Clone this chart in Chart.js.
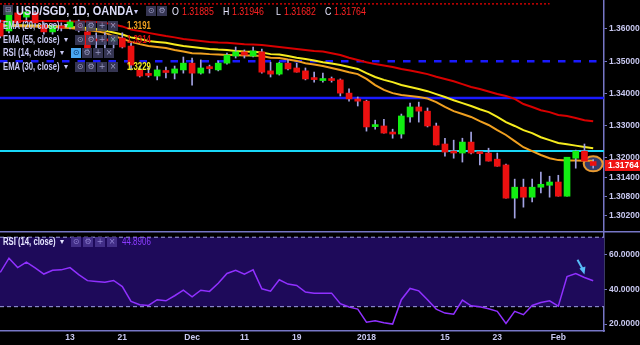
<!DOCTYPE html>
<html>
<head>
<meta charset="utf-8">
<script src="https://cdn.jsdelivr.net/npm/chart.js@4.4.1/dist/chart.umd.min.js"></script>
<style>
  html, body { margin: 0; padding: 0; background: #000; width: 640px; height: 345px; overflow: hidden; }
  #wrap { position: relative; width: 640px; height: 345px; }
  #priceBox { position: absolute; left: 0; top: 0; width: 640px; height: 231px; }
  #rsiBox { position: absolute; left: 0; top: 231px; width: 640px; height: 114px; }
  .t { position: absolute; white-space: nowrap; font-family: "Liberation Sans", Arial, sans-serif;
       line-height: 12px; height: 12px; transform-origin: 0 50%; }
  .nm { font-size: 10px; font-weight: bold; color: #c8c8f2; transform: scaleX(0.77); }
  .dd { font-size: 8px; color: #c8c8f2; font-family: "DejaVu Sans", sans-serif; }
  .val { font-size: 10px; font-weight: bold; transform: scaleX(0.78); }
  .hd { font-size: 12px; font-weight: bold; color: #dcdcf8; transform: scaleX(0.92); line-height: 14px; height: 14px; }
  .ol { font-size: 11px; color: #e6e6ff; transform: scaleX(0.8); line-height: 14px; height: 14px; }
  .ov { font-size: 11px; color: #ff2222; transform: scaleX(0.8); line-height: 14px; height: 14px; }
  .ic { position: absolute; width: 10px; height: 10px; background: rgba(62,62,96,0.85); color: #9a9ac4;
        font: 8px/10px "DejaVu Sans", sans-serif; text-align: center; }
  .ic.on { background: #4aa8f0; color: #0a3a70; }
  .ic.rs { background: rgba(70,50,140,0.9); color: #8f80d0; }
</style>
</head>
<body>
<div id="wrap">
  <div id="priceBox"><canvas id="price"></canvas></div>
  <div id="rsiBox"><canvas id="rsi"></canvas></div>

  <!-- header -->
  <div class="ic" style="left:3px;top:5px;height:10px;background:rgba(70,70,100,0.8)">&#8863;</div>
  <div class="t hd" style="left:16px;top:4px">USD/SGD, 1D, OANDA</div>
  <div class="t dd" style="left:134px;top:6px">&#9662;</div>
  <div class="ic" style="left:146px;top:6px">&#8857;</div>
  <div class="ic" style="left:157px;top:6px">&#9881;</div>
  <div class="t ol" style="left:172px;top:4px">O</div><div class="t ov" style="left:182px;top:4px">1.31885</div>
  <div class="t ol" style="left:223px;top:4px">H</div><div class="t ov" style="left:232px;top:4px">1.31946</div>
  <div class="t ol" style="left:276px;top:4px">L</div><div class="t ov" style="left:284px;top:4px">1.31682</div>
  <div class="t ol" style="left:325px;top:4px">C</div><div class="t ov" style="left:334px;top:4px">1.31764</div>

  <!-- indicator rows -->
  <div class="t nm" style="left:3px;top:20px">EMA (20, close)</div>
  <div class="t dd" style="left:64px;top:20px">&#9662;</div>
  <div class="ic" style="left:75px;top:21px">&#8857;</div><div class="ic" style="left:86px;top:21px">&#9881;</div>
  <div class="ic" style="left:97px;top:21px">+</div><div class="ic" style="left:108px;top:21px">&#215;</div>
  <div class="t val" style="left:127px;top:20px;color:#f0a020">1.3191</div>

  <div class="t nm" style="left:3px;top:33.5px">EMA (55, close)</div>
  <div class="t dd" style="left:64px;top:33.5px">&#9662;</div>
  <div class="ic" style="left:75px;top:34.5px">&#8857;</div><div class="ic" style="left:86px;top:34.5px">&#9881;</div>
  <div class="ic" style="left:97px;top:34.5px">+</div><div class="ic" style="left:108px;top:34.5px">&#215;</div>
  <div class="t val" style="left:127px;top:33.5px;color:#e01010">1.3314</div>

  <div class="t nm" style="left:3px;top:47px">RSI (14, close)</div>
  <div class="t dd" style="left:60px;top:47px">&#9662;</div>
  <div class="ic on" style="left:71px;top:48px">&#8857;</div><div class="ic" style="left:82px;top:48px">&#9881;</div>
  <div class="ic" style="left:93px;top:48px">+</div><div class="ic" style="left:104px;top:48px">&#215;</div>

  <div class="t nm" style="left:3px;top:60.5px">EMA (30, close)</div>
  <div class="t dd" style="left:64px;top:60.5px">&#9662;</div>
  <div class="ic" style="left:75px;top:61.5px">&#8857;</div><div class="ic" style="left:86px;top:61.5px">&#9881;</div>
  <div class="ic" style="left:97px;top:61.5px">+</div><div class="ic" style="left:108px;top:61.5px">&#215;</div>
  <div class="t val" style="left:127px;top:60.5px;color:#f4ee22">1.3229</div>

  <!-- rsi pane legend -->
  <div class="t nm" style="left:3px;top:235.5px;color:#e6e6ff">RSI (14, close)</div>
  <div class="t dd" style="left:60px;top:235.5px;color:#e6e6ff">&#9662;</div>
  <div class="ic rs" style="left:71px;top:236.5px">&#8857;</div><div class="ic rs" style="left:83px;top:236.5px">&#9881;</div>
  <div class="ic rs" style="left:95px;top:236.5px">+</div><div class="ic rs" style="left:107px;top:236.5px">&#215;</div>
  <div class="t val" style="left:122px;top:235.5px;color:#8c3cff;font-weight:normal;transform:scaleX(0.8)">44.8906</div>
</div>

<script>
// ---- data (daily candles, Nov 1 2017 .. Feb 7 2018) ----
const days = [
  'Nov 1','Nov 2','Nov 3','Nov 6','Nov 7','Nov 8','Nov 9','Nov 10','Nov 13','Nov 14',
  'Nov 15','Nov 16','Nov 17','Nov 20','Nov 21','Nov 22','Nov 23','Nov 24','Nov 27','Nov 28',
  'Nov 29','Nov 30','Dec 1','Dec 4','Dec 5','Dec 6','Dec 7','Dec 8','Dec 11','Dec 12',
  'Dec 13','Dec 14','Dec 15','Dec 18','Dec 19','Dec 20','Dec 21','Dec 22','Dec 26','Dec 27',
  'Dec 28','Dec 29','Jan 2','Jan 3','Jan 4','Jan 5','Jan 8','Jan 9','Jan 10','Jan 11',
  'Jan 12','Jan 15','Jan 16','Jan 17','Jan 18','Jan 19','Jan 22','Jan 23','Jan 24','Jan 25',
  'Jan 26','Jan 29','Jan 30','Jan 31','Feb 1','Feb 2','Feb 5','Feb 6','Feb 7'
];

const open = [
  1.3619,1.3594,1.3650,1.3637,1.3650,1.3612,1.3591,1.3609,1.3606,1.3622,
  1.3591,1.3569,1.3566,1.3563,1.3572,1.3547,1.3473,1.3459,1.3454,1.3468,
  1.3463,1.3473,1.3494,1.3463,1.3480,1.3473,1.3494,1.3516,1.3529,1.3516,
  1.3529,1.3470,1.3460,1.3494,1.3479,1.3470,1.3446,1.3440,1.3443,1.3442,
  1.3401,1.3383,1.3376,1.3297,1.3299,1.3280,1.3274,1.3327,1.3358,1.3345,
  1.3299,1.3243,1.3218,1.3215,1.3249,1.3216,1.3215,1.3196,1.3178,1.3075,
  1.3109,1.3078,1.3109,1.3115,1.3125,1.3081,1.3199,1.3221,1.31885
];
const high = [
  1.3628,1.3659,1.3656,1.3659,1.3656,1.3619,1.3616,1.3619,1.3628,1.3628,
  1.3612,1.3588,1.3588,1.3581,1.3588,1.3557,1.3485,1.3482,1.3485,1.3482,
  1.3485,1.3513,1.3510,1.3504,1.3488,1.3501,1.3525,1.3544,1.3535,1.3544,
  1.3538,1.3497,1.3497,1.3504,1.3494,1.3479,1.3466,1.3463,1.3451,1.3445,
  1.3414,1.3389,1.3379,1.3317,1.3320,1.3289,1.3336,1.3370,1.3373,1.3355,
  1.3308,1.3261,1.3255,1.3261,1.3280,1.3218,1.3230,1.3215,1.3181,1.3134,
  1.3134,1.3134,1.3156,1.3143,1.3146,1.3202,1.3224,1.3243,1.31946
];
const low = [
  1.3572,1.3588,1.3612,1.3628,1.3609,1.3584,1.3584,1.3594,1.3600,1.3591,
  1.3535,1.3541,1.3541,1.3541,1.3541,1.3473,1.3451,1.3451,1.3442,1.3448,
  1.3445,1.3463,1.3426,1.3460,1.3463,1.3470,1.3491,1.3510,1.3510,1.3513,
  1.3463,1.3451,1.3457,1.3473,1.3466,1.3442,1.3435,1.3435,1.3435,1.3392,
  1.3376,1.3361,1.3283,1.3289,1.3277,1.3261,1.3261,1.3311,1.3311,1.3296,
  1.3240,1.3205,1.3199,1.3187,1.3212,1.3178,1.3190,1.3174,1.3075,1.3013,
  1.3047,1.3063,1.3091,1.3078,1.3081,1.3081,1.3168,1.3190,1.31682
];
const close = [
  1.3578,1.3653,1.3619,1.3653,1.3619,1.3591,1.3609,1.3603,1.3622,1.3597,
  1.3541,1.3563,1.3563,1.3572,1.3544,1.3488,1.3454,1.3456,1.3473,1.3465,
  1.3476,1.3494,1.3463,1.3479,1.3477,1.3494,1.3519,1.3529,1.3519,1.3532,
  1.3466,1.3460,1.3494,1.3476,1.3466,1.3445,1.3443,1.3443,1.3440,1.3401,
  1.3383,1.3376,1.3296,1.3300,1.3277,1.3274,1.3330,1.3358,1.3345,1.3299,
  1.3240,1.3218,1.3215,1.3249,1.3215,1.3213,1.3190,1.3174,1.3075,1.3109,
  1.3078,1.3109,1.3118,1.3125,1.3081,1.3202,1.3221,1.3190,1.31764
];

const ema20 = [
  1.3609,1.3609,1.3609,1.3608,1.3608,1.3606,1.3606,1.3605,1.3603,1.3600,
  1.3597,1.3594,1.3588,1.3578,1.3570,1.3560,1.3553,1.3547,1.3544,1.3541,
  1.3535,1.3530,1.3525,1.3524,1.3522,1.3521,1.3519,1.3519,1.3518,1.3518,
  1.3516,1.3511,1.3510,1.3505,1.3501,1.3494,1.3490,1.3485,1.3479,1.3473,
  1.3466,1.3460,1.3445,1.3426,1.3411,1.3401,1.3395,1.3392,1.3389,1.3384,
  1.3373,1.3358,1.3345,1.3336,1.3327,1.3314,1.3302,1.3286,1.3271,1.3252,
  1.3233,1.3221,1.3209,1.3199,1.3193,1.3192,1.3192,1.3191,1.3191
];
const ema30 = [
  1.3612,1.3612,1.3612,1.3611,1.3611,1.3609,1.3609,1.3608,1.3606,1.3605,
  1.3603,1.3600,1.3595,1.3589,1.3583,1.3574,1.3569,1.3563,1.3560,1.3557,
  1.3552,1.3547,1.3544,1.3541,1.3538,1.3536,1.3535,1.3532,1.3530,1.3529,
  1.3527,1.3522,1.3521,1.3516,1.3511,1.3507,1.3502,1.3497,1.3493,1.3488,
  1.3482,1.3476,1.3463,1.3451,1.3442,1.3435,1.3426,1.3420,1.3414,1.3407,
  1.3398,1.3389,1.3379,1.3370,1.3361,1.3351,1.3342,1.3327,1.3311,1.3299,
  1.3286,1.3277,1.3264,1.3255,1.3246,1.3242,1.3238,1.3234,1.3230
];
const ema55 = [
  1.3625,1.3625,1.3625,1.3625,1.3625,1.3625,1.3625,1.3625,1.3623,1.3623,
  1.3623,1.3622,1.3619,1.3614,1.3608,1.3598,1.3594,1.3588,1.3583,1.3578,
  1.3574,1.3569,1.3566,1.3563,1.3560,1.3558,1.3557,1.3555,1.3553,1.3552,
  1.3550,1.3547,1.3544,1.3541,1.3538,1.3535,1.3532,1.3530,1.3525,1.3519,
  1.3511,1.3504,1.3497,1.3491,1.3487,1.3482,1.3476,1.3471,1.3466,1.3460,
  1.3452,1.3445,1.3438,1.3429,1.3420,1.3414,1.3406,1.3398,1.3392,1.3383,
  1.3367,1.3358,1.3348,1.3342,1.3333,1.3330,1.3324,1.3317,1.3314
];

const rsi14 = [
  49.7,57.9,52.5,55.6,52.4,48.8,51.0,51.2,52.5,48.5,
  45.0,44.5,44.1,45.1,41.6,33.0,31.1,30.7,34.0,33.4,
  36.3,39.5,35.7,39.5,38.8,43.5,49.1,51.0,48.7,51.2,
  40.3,38.9,45.5,43.0,42.2,38.4,37.8,37.8,37.8,31.7,
  29.8,28.6,21.1,21.9,20.8,20.0,34.0,40.5,39.1,34.0,
  28.6,26.3,25.7,33.8,30.5,30.0,28.8,27.3,20.4,27.3,
  25.4,30.7,32.4,33.4,30.3,47.4,49.1,46.8,44.89
];

// horizontal levels drawn on the price pane
const dashedLevel = 1.3500;
const solidLevel  = 1.3386;
const cyanLevel   = 1.3221;
const dottedLevel = 1.3678;   // red dotted line, runs up to candle 63
const dottedEnd   = 63;
const rsiLevels   = [70, 30];

const priceTicks = [1.36, 1.35, 1.34, 1.33, 1.32, 1.314, 1.308, 1.302];
const rsiTicks   = [60, 40, 20];
const xTickIdx   = [8, 14, 22, 28, 34, 42, 51, 57, 64];
const xTickText  = ['13', '21', 'Dec', '11', '19', '2018', '15', '23', 'Feb'];

// ---- look ----
const X_MIN = -0.028, X_MAX = 69.24;
const AXIS  = '#7676c6';
const TICK  = '#c8c8f0';
const TFONT = { family: 'Liberation Sans', size: 8.5, weight: 'bold' };
const UP = '#12ee12', DOWN = '#ec1010', WICK = '#a2a2e2';

const pts = arr => arr.map((v, i) => ({ x: i, y: v }));
const hline = (lvl, x0 = X_MIN, x1 = X_MAX) => [{ x: x0, y: lvl }, { x: x1, y: lvl }];
const flatLine = (data, color, width, dash, order) => ({
  type: 'line', data, borderColor: color, borderWidth: width, borderDash: dash || [],
  pointRadius: 0, tension: 0, order,
});

const fixRightAxis = s => { s.width = 36; s.paddingTop = 0; s.paddingBottom = 0; };

// ellipse highlight behind the last candle + live price tag
const priceDecor = {
  id: 'priceDecor',
  beforeDatasetsDraw(chart) {
    const { ctx, scales: { x, y } } = chart;
    const n = close.length - 1;
    const cx = x.getPixelForValue(n), cy = y.getPixelForValue((high[n] + low[n]) / 2);
    ctx.save();
    ctx.beginPath();
    ctx.ellipse(cx, cy, 9.5, 7.5, 0, 0, Math.PI * 2);
    ctx.fillStyle = 'rgba(72,82,140,0.75)';
    ctx.fill();
    ctx.lineWidth = 2;
    ctx.strokeStyle = '#e89a30';
    ctx.stroke();
    ctx.restore();
  },
  afterDraw(chart) {
    const { ctx, chartArea, scales: { y } } = chart;
    const n = close.length - 1;
    const py = y.getPixelForValue(close[n]);
    ctx.save();
    ctx.fillStyle = '#f01414';
    ctx.fillRect(chartArea.right + 1, py - 5.5, 36, 11);
    ctx.fillStyle = '#ffffff';
    ctx.font = 'bold 8.5px "Liberation Sans"';
    ctx.textBaseline = 'middle';
    ctx.fillText(close[n].toFixed(5), chartArea.right + 4, py + 0.5);
    ctx.restore();
  },
};

new Chart(document.getElementById('price'), {
  type: 'bar',
  data: {
    datasets: [
      { type: 'bar', data: days.map((d, i) => ({ x: i, y: [open[i], close[i]] })),
        backgroundColor: c => close[c.dataIndex] >= open[c.dataIndex] ? UP : DOWN,
        barThickness: 6, minBarLength: 2, grouped: false, borderWidth: 0, order: 0 },
      { type: 'bar', data: days.map((d, i) => ({ x: i, y: [low[i], high[i]] })),
        backgroundColor: WICK, barThickness: 1, grouped: false, borderWidth: 0, order: 1 },
      flatLine(pts(ema20), '#f0a020', 2, null, 2),
      flatLine(pts(ema30), '#f6ec1e', 2, null, 2),
      flatLine(pts(ema55), '#d80000', 2, null, 2),
      flatLine(hline(dashedLevel), '#1a1aff', 2.5, [7.5, 8], 3),
      flatLine(hline(solidLevel), '#1a1aff', 2.5, null, 3),
      flatLine(hline(cyanLevel), '#18d8f8', 2, null, 3),
      flatLine(hline(dottedLevel, X_MIN, dottedEnd), '#c80000', 1.5, [2, 2], 3),
    ],
  },
  options: {
    responsive: true, maintainAspectRatio: false, animation: false, events: [],
    layout: { padding: 0, autoPadding: false },
    plugins: { legend: { display: false }, tooltip: { enabled: false } },
    scales: {
      x: { type: 'linear', min: X_MIN, max: X_MAX, offset: false, display: false },
      y: {
        type: 'linear', position: 'right', min: 1.2973, max: 1.3690,
        afterBuildTicks: s => { s.ticks = priceTicks.map(v => ({ value: v })); },
        afterFit: fixRightAxis,
        ticks: { color: TICK, font: TFONT, padding: 2, callback: v => v.toFixed(5) },
        grid: { display: true, drawOnChartArea: false, drawTicks: true, tickLength: 3, tickColor: AXIS },
        border: { display: true, color: AXIS, width: 1.5 },
      },
    },
  },
  plugins: [priceDecor],
});

// band between 30 and 70, pane separator and the arrow note
const rsiDecor = {
  id: 'rsiDecor',
  beforeDatasetsDraw(chart) {
    const { ctx, chartArea: a, scales: { y } } = chart;
    const top = y.getPixelForValue(rsiLevels[0]), bot = y.getPixelForValue(rsiLevels[1]);
    ctx.save();
    ctx.fillStyle = '#1e0a5a';
    ctx.fillRect(a.left, top, a.right - a.left, bot - top);
    ctx.restore();
  },
  afterDraw(chart) {
    const { ctx, scales: { x, y } } = chart;
    ctx.save();
    ctx.strokeStyle = AXIS;
    ctx.lineWidth = 1.5;
    ctx.beginPath();
    ctx.moveTo(0, 0.75);
    ctx.lineTo(chart.width, 0.75);
    ctx.stroke();
    // arrow
    const tx = x.getPixelForValue(67), ty = y.getPixelForValue(48.5);
    const sx = x.getPixelForValue(66.2), sy = y.getPixelForValue(57);
    ctx.strokeStyle = '#58bdf8';
    ctx.fillStyle = '#58bdf8';
    ctx.lineWidth = 2;
    ctx.beginPath();
    ctx.moveTo(sx, sy);
    ctx.lineTo(tx - 1, ty - 4);
    ctx.stroke();
    ctx.beginPath();
    ctx.moveTo(tx, ty);
    ctx.lineTo(tx - 5, ty - 6);
    ctx.lineTo(tx + 1, ty - 8);
    ctx.closePath();
    ctx.fill();
    ctx.restore();
  },
};

new Chart(document.getElementById('rsi'), {
  type: 'line',
  data: {
    datasets: [
      flatLine(pts(rsi14), '#9030ff', 1.5, null, 0),
      flatLine(hline(rsiLevels[0]), '#a0a0e6', 1, [4, 3], 1),
      flatLine(hline(rsiLevels[1]), '#a0a0e6', 1, [4, 3], 1),
    ],
  },
  options: {
    responsive: true, maintainAspectRatio: false, animation: false, events: [],
    layout: { padding: { top: 1, left: 0, right: 0, bottom: 0 }, autoPadding: false },
    plugins: { legend: { display: false }, tooltip: { enabled: false } },
    scales: {
      x: {
        type: 'linear', min: X_MIN, max: X_MAX, offset: false,
        afterBuildTicks: s => { s.ticks = xTickIdx.map(v => ({ value: v })); },
        afterFit: s => { s.height = 14; s.paddingLeft = 0; s.paddingRight = 0; },
        ticks: { color: TICK, font: TFONT, padding: 2, maxRotation: 0, autoSkip: false,
                 callback: v => xTickText[xTickIdx.indexOf(v)] },
        grid: { display: true, drawOnChartArea: false, drawTicks: false },
        border: { display: true, color: AXIS, width: 1.5 },
      },
      y: {
        type: 'linear', position: 'right', min: 16, max: 73,
        afterBuildTicks: s => { s.ticks = rsiTicks.map(v => ({ value: v })); },
        afterFit: fixRightAxis,
        ticks: { color: TICK, font: TFONT, padding: 2, callback: v => v.toFixed(4) },
        grid: { display: true, drawOnChartArea: false, drawTicks: true, tickLength: 3, tickColor: AXIS },
        border: { display: true, color: AXIS, width: 1.5 },
      },
    },
  },
  plugins: [rsiDecor],
});
</script>
</body>
</html>
